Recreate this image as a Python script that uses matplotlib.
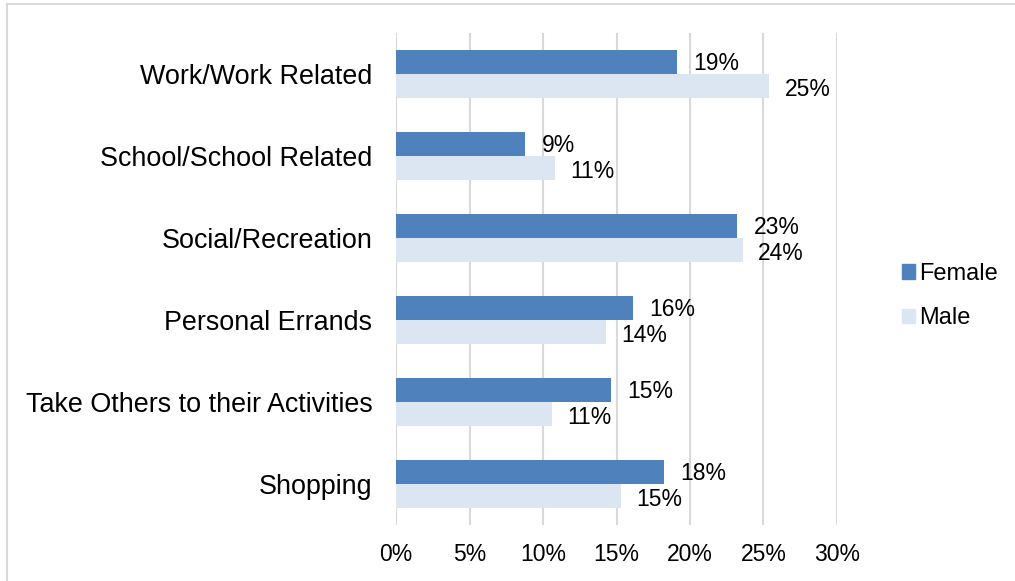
import matplotlib.pyplot as plt
from matplotlib.lines import Line2D
from matplotlib.patches import Patch
import numpy as np

categories = ['Work/Work Related', 'School/School Related', 'Social/Recreation',
              'Personal Errands', 'Take Others to their Activities', 'Shopping']
female = [19.1, 8.8, 23.2, 16.1, 14.6, 18.2]
male = [25.4, 10.8, 23.6, 14.3, 10.6, 15.3]
xticks = [0, 5, 10, 15, 20, 25, 30]

female_color = '#4F81BD'
male_color = '#DCE6F2'

plt.rcParams['font.family'] = ['Liberation Sans', 'DejaVu Sans']

fig = plt.figure(figsize=(10.15, 5.81), dpi=100)
W, H = 1015, 581
ax = fig.add_axes([396 / W, 1 - 525 / H, (837 - 396) / W, (525 - 33) / H])

y = np.arange(len(categories))
h = 0.287
ax.barh(y - h / 2, female, height=h, color=female_color, label='Female', zorder=2)
ax.barh(y + h / 2, male, height=h, color=male_color, label='Male', zorder=2)

for yi, f, m in zip(y, female, male):
    ax.annotate(f'{f:.0f}%', (f, yi - h / 2 + 0.02), xytext=(12, 0), textcoords='offset points',
                va='center', ha='left', fontsize=16.5)
    ax.annotate(f'{m:.0f}%', (m, yi + h / 2 + 0.04), xytext=(11, 0), textcoords='offset points',
                va='center', ha='left', fontsize=16.5)

ax.set_ylim(len(categories) - 0.5, -0.5)
ax.set_xlim(0, 30)
ax.set_yticks(y)
ax.set_yticklabels(categories, fontsize=19.4)
ax.set_xticks(xticks)
ax.set_xticklabels([f'{t}%' for t in xticks], fontsize=16.5)
ax.tick_params(axis='both', length=0)
ax.tick_params(axis='y', pad=17)
ax.tick_params(axis='x', pad=13)
ax.grid(axis='x', color='#d9d9d9', linewidth=1.5, zorder=0)
for s in ax.spines.values():
    s.set_visible(False)

handles = [Patch(color=female_color), Patch(color=male_color)]
fig.legend(handles, ['Female', 'Male'], loc='center left', bbox_to_anchor=(881 / W, 1 - 296 / H),
           frameon=False, fontsize=17, handlelength=0.55, handleheight=0.55,
           handletextpad=0.15, labelspacing=0.95)

# chart frame, only top and left edges show
fig.add_artist(Line2D([6.5 / W, 6.5 / W], [0, 1 - 3.5 / H], color='#d9d9d9', linewidth=1.5,
                      transform=fig.transFigure))
fig.add_artist(Line2D([6.5 / W, 1], [1 - 3.5 / H, 1 - 3.5 / H], color='#d9d9d9', linewidth=1.5,
                      transform=fig.transFigure))

fig.savefig('out.png', dpi=100)
